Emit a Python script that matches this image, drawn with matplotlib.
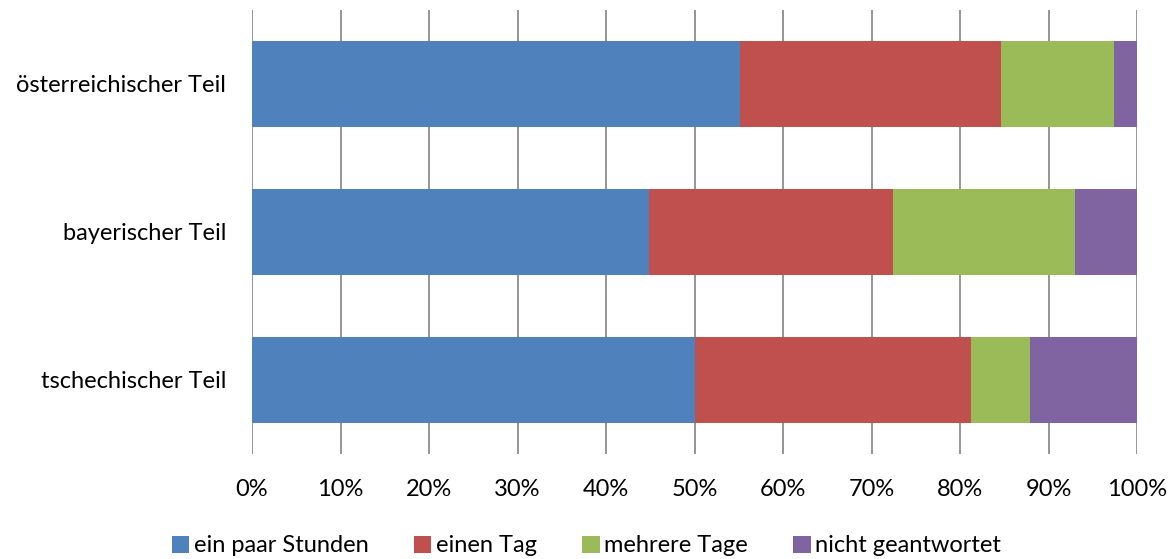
import matplotlib.pyplot as plt
from matplotlib.patches import Patch

categories = ["tschechischer Teil", "bayerischer Teil", "österreichischer Teil"]
series_names = ["ein paar Stunden", "einen Tag", "mehrere Tage", "nicht geantwortet"]
ein_paar_stunden = [50.0, 44.9, 55.1]
einen_tag = [31.2, 27.5, 29.5]
mehrere_tage = [6.7, 20.6, 12.8]
nicht_geantwortet = [12.1, 7.0, 2.6]
colors = ["#4F81BD", "#C0504D", "#9BBB59", "#8064A2"]
tick_values = list(range(0, 101, 10))
tick_labels = [f"{v}%" for v in tick_values]

plt.rcParams["font.family"] = ["Lato", "DejaVu Sans"]
FS = 17

fig = plt.figure(figsize=(11.73, 5.59), dpi=100)
ax = fig.add_axes([252 / 1173, 1 - 454 / 559, 885 / 1173, 444 / 559])

series = [ein_paar_stunden, einen_tag, mehrere_tage, nicht_geantwortet]
ypos = list(range(len(categories)))
left = [0.0] * len(categories)
for vals, col in zip(series, colors):
    ax.barh(ypos, vals, left=left, height=0.575, color=col,
            edgecolor="none", zorder=3)
    left = [l + v for l, v in zip(left, vals)]

ax.set_xlim(0, 100)
ax.set_ylim(-0.5, len(categories) - 0.5)
ax.set_xticks(tick_values)
ax.set_xticklabels(tick_labels, fontsize=FS, color="#000000")
ax.set_yticks(ypos)
ax.set_yticklabels(categories, fontsize=FS, color="#000000")
ax.tick_params(axis="x", length=0, pad=18)
ax.tick_params(axis="y", length=0, pad=18.5)
ax.xaxis.grid(True, color="#8C8C8C", linewidth=1.3, zorder=0)
for s in ax.spines.values():
    s.set_visible(False)

handles = [Patch(facecolor=c, edgecolor="none") for c in colors]
fig.legend(handles, series_names, loc="center", bbox_to_anchor=(0.5, 1 - 546 / 559),
           ncol=4, frameon=False, fontsize=FS, handlelength=0.75, handleheight=0.75,
           handletextpad=0.2, columnspacing=1.9)

fig.savefig("out.png", dpi=100)
